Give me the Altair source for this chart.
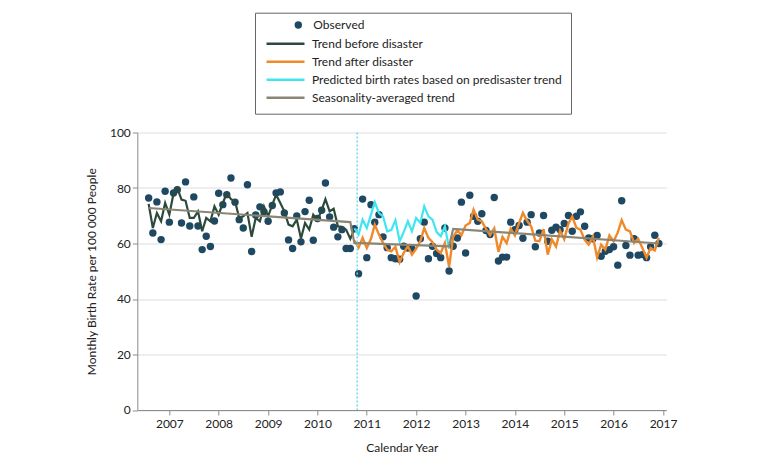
import altair as alt
import pandas as pd

# ---- data ----
months = pd.date_range("2006-08-01", periods=125, freq="MS").strftime("%Y-%m-%d").tolist()

observed = [
    76.4, 63.8, 75.0, 61.4, 78.8, 67.7, 78.2, 79.4, 67.4, 82.2, 66.3, 76.8,
    66.3, 57.8, 62.6, 58.9, 68.1, 78.1, 74.0, 77.6, 83.6, 74.9, 68.6, 65.6,
    81.2, 57.1, 70.3, 73.2, 71.5, 68.0, 73.7, 78.2, 78.6, 71.0, 61.3, 58.2,
    69.9, 60.6, 71.5, 75.6, 61.2, 69.0, 72.0, 81.8, 69.6, 65.9, 62.4, 65.0,
    58.2, 58.2, 65.3, 49.1, 76.0, 54.9, 74.0, 67.7, 70.4, 62.4, 58.5, 54.9,
    54.5, 54.3, 59.0, 58.4, 58.1, 41.1, 61.7, 67.7, 54.5, 59.0, 56.4, 54.9,
    65.6, 50.1, 59.0, 62.0, 74.9, 56.6, 77.4, 69.8, 68.0, 70.7, 64.7, 63.2,
    76.6, 53.7, 55.1, 55.1, 67.7, 65.0, 66.5, 61.9, 67.7, 70.4, 58.8, 63.8,
    70.1, 60.8, 64.8, 65.9, 65.0, 67.2, 70.1, 64.4, 69.8, 71.4, 66.2, 62.0,
    61.7, 62.9, 55.4, 57.2, 57.8, 58.8, 52.2, 75.4, 59.3, 55.8, 61.7, 55.8,
    56.0, 54.9, 58.8, 63.0, 60.0,
]

# month index 0..50
trend_before = [
    74.3, 65.6, 71.0, 68.0, 74.6, 70.4, 78.0, 80.0, 75.8, 75.4, 69.2, 69.2,
    71.6, 64.4, 69.2, 68.0, 73.4, 70.4, 74.6, 78.2, 76.0, 75.2, 69.2, 69.8,
    71.0, 62.4, 69.2, 68.0, 73.4, 69.8, 74.0, 77.6, 74.6, 71.6, 66.8, 66.2,
    68.6, 61.8, 67.4, 65.0, 70.4, 68.4, 72.0, 76.0, 71.6, 72.5, 66.2, 66.0,
    65.0, 61.7, 65.0,
]
before_start = 0

# month index 50..73
predicted = [
    65.5, 63.2, 68.6, 65.6, 70.4, 74.9, 71.0, 69.8, 64.4, 64.8, 68.4, 60.8,
    64.1, 68.0, 64.4, 69.2, 67.4, 73.4, 69.8, 68.6, 64.1, 62.6, 66.2, 58.1,
]
predicted_start = 50

# month index 50..124
trend_after = [
    61.0, 58.5, 62.0, 58.4, 61.7, 66.8, 63.2, 60.2, 57.8, 57.2, 58.8, 53.3,
    56.6, 59.0, 56.0, 58.1, 60.8, 65.6, 62.0, 60.5, 57.8, 56.6, 60.2, 51.6,
    62.4, 64.8, 63.0, 66.5, 67.4, 72.2, 68.6, 68.0, 65.3, 63.0, 65.5, 57.0,
    62.4, 60.1, 65.3, 62.9, 67.4, 71.0, 68.2, 66.2, 61.0, 60.8, 65.2, 56.0,
    61.5, 58.9, 64.6, 61.5, 67.2, 69.7, 65.6, 65.0, 61.3, 59.6, 62.5, 55.0,
    59.6, 57.8, 62.9, 60.8, 64.0, 68.4, 65.0, 64.4, 60.2, 61.7, 58.4, 54.9,
    58.4, 57.5, 62.0,
]
after_start = 50

seasonal_idx = [0, 49, 50, 73, 74, 124]
seasonal_vals = [72.8, 67.7, 60.2, 59.0, 65.3, 60.0]

disaster_date = ["2010-10-22"]

line_names = [
    "Trend before disaster",
    "Trend after disaster",
    "Predicted birth rates based on predisaster trend",
    "Seasonality-averaged trend",
]
line_colors = ["#2c4a3c", "#f0892a", "#3fe6f0", "#8a8676"]
point_name = ["Observed"]
point_color = ["#1f4862"]

FONT = "Lato"


def series_df(name, start, vals):
    return pd.DataFrame({
        "date": months[start:start + len(vals)],
        "value": vals,
        "series": name,
    })


obs_df = pd.DataFrame({"date": months, "value": observed, "series": "Observed"})
before_df = series_df(line_names[0], before_start, trend_before)
after_df = series_df(line_names[1], after_start, trend_after)
pred_df = series_df(line_names[2], predicted_start, predicted)
seas_df = pd.DataFrame({
    "date": [months[i] for i in seasonal_idx],
    "value": seasonal_vals,
    "series": line_names[3],
})
rule_df = pd.DataFrame({"date": disaster_date})

x_scale = alt.Scale(domain=[alt.DateTime(year=2006, month=5, date=9),
                            alt.DateTime(year=2017, month=1, date=25)], nice=False)
y_scale = alt.Scale(domain=[0, 100], nice=False)

x_enc = alt.X(
    "date:T", scale=x_scale,
    axis=alt.Axis(title="Calendar Year", format="%Y", tickCount="year",
                  labelAngle=0, grid=False, labelFlush=False, tickSize=5,
                  labelPadding=4, titlePadding=13),
)
y_enc = alt.Y(
    "value:Q", scale=y_scale,
    axis=alt.Axis(title="Monthly Birth Rate per 100 000 People",
                  values=[0, 20, 40, 60, 80, 100], grid=True, tickSize=5,
                  labelPadding=2, titlePadding=11),
)

line_color = alt.Color(
    "series:N",
    scale=alt.Scale(domain=line_names, range=line_colors),
    legend=alt.Legend(
        title=" ", orient="none", legendX=117.7, legendY=-119.8,
        padding=8, strokeColor="#666666", symbolType="stroke",
        symbolSize=1444, symbolStrokeWidth=2.5, symbolOffset=2,
        labelOffset=6, clipHeight=16, rowPadding=2, titlePadding=3,
        titleFontSize=12, labelFontSize=12, labelLimit=400,
    ),
)

points = alt.Chart(obs_df).mark_circle(size=55, opacity=1).encode(
    x=x_enc, y=y_enc,
    fill=alt.Fill(
        "series:N",
        scale=alt.Scale(domain=point_name, range=point_color),
        legend=alt.Legend(
            title=None, orient="none", legendX=155, legendY=-115.5,
            padding=0, symbolType="circle", symbolSize=55, clipHeight=16,
            labelOffset=9, symbolStrokeWidth=0, symbolOpacity=1,
            labelFontSize=12,
        ),
    ),
)

rule = alt.Chart(rule_df).mark_rule(
    color="#6fdbe8", strokeDash=[2, 2], strokeWidth=1.5
).encode(x=alt.X("date:T", scale=x_scale))


def line_layer(df, width):
    return alt.Chart(df).mark_line(strokeWidth=width).encode(
        x=x_enc, y=y_enc, color=line_color
    )


chart = alt.layer(
    points,
    line_layer(before_df, 2.2),
    line_layer(pred_df, 2.2),
    line_layer(after_df, 2.4),
    line_layer(seas_df, 2.2),
    rule,
).properties(
    width=529, height=277.5,
    autosize=alt.AutoSizeParams(type="none"),
    padding={"left": 129.3, "top": 124.5, "right": 105, "bottom": 47},
).configure(
    font=FONT,
).configure_view(
    stroke=None,
).configure_axis(
    labelFont=FONT, labelFontSize=12, labelColor="#222222",
    titleFont=FONT, titleFontSize=12, titleFontWeight="normal", titleColor="#222222",
    domainColor="#8c8c8c", tickColor="#8c8c8c", gridColor="#dedede",
).configure_legend(
    labelFont=FONT, labelColor="#222222", titleFont=FONT,
)

chart.save("out.html", embed_options={"renderer": "svg", "actions": False})
